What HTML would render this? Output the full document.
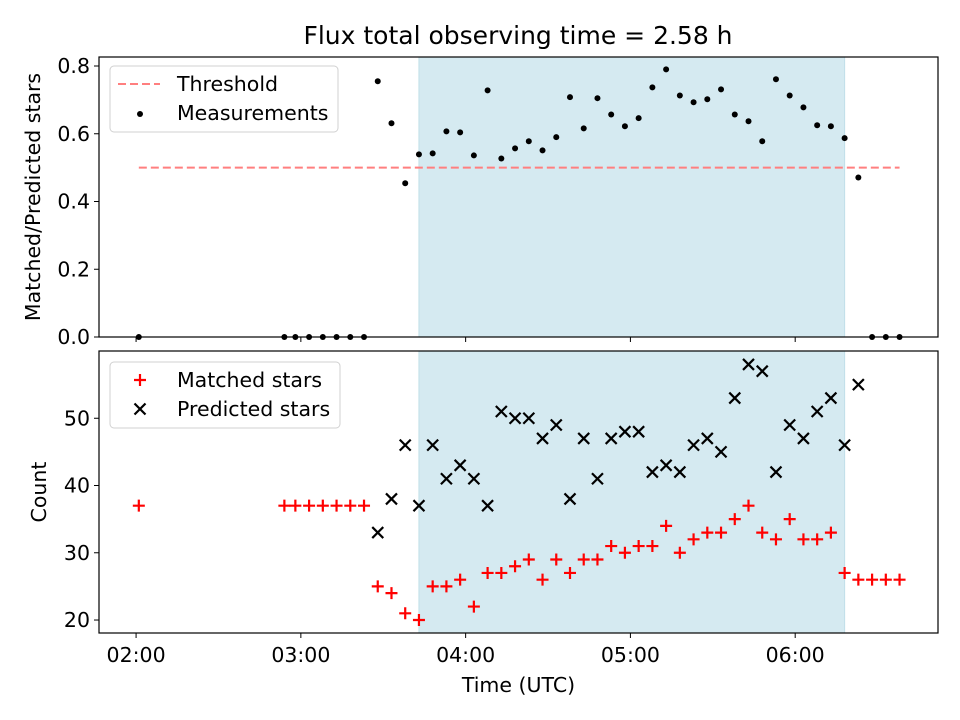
<!DOCTYPE html>
<html><head><meta charset="utf-8"><style>
html,body{margin:0;padding:0;background:#fff;}
svg{display:block;font-family:"DejaVu Sans","Liberation Sans",sans-serif;}
</style></head><body>
<svg id="fig" width="960" height="720" viewBox="0 0 960 720" xmlns="http://www.w3.org/2000/svg">
<rect width="960" height="720" fill="#fff"/>
<text x="518" y="44" font-size="25" text-anchor="middle">Flux total observing time = 2.58 h</text>
<g id="topPanel"></g>
<g id="botPanel"></g>
</svg>
<script>
// times in minutes after 02:00
const earlyTimes = [1, 54, 58, 63, 68, 73, 78, 83];
const mainTimes = [88,93,98,103,108,113,118,123,128,133,138,143,148,153,158,163,168,173,178,183,188,193,198,203,208,213,218,223,228,233,238,243,248,253,258,263];
const lateTimes = [268, 273, 278];
const ratioMain = [0.755,0.631,0.454,0.539,0.542,0.607,0.604,0.536,0.728,0.527,0.557,0.578,0.551,0.590,0.708,0.616,0.705,0.657,0.622,0.646,0.737,0.790,0.713,0.693,0.702,0.731,0.657,0.637,0.578,0.761,0.713,0.678,0.625,0.622,0.587,0.471];
const matchedEarly = [37,37,37,37,37,37,37,37];
const matchedMain = [25,24,21,20,25,25,26,22,27,27,28,29,26,29,27,29,29,31,30,31,31,34,30,32,33,33,35,37,33,32,35,32,32,33,27,26];
const matchedLate = [26,26,26];
const predictedMain = [33,38,46,37,46,41,43,41,37,51,50,50,47,49,38,47,41,47,48,48,42,43,42,46,47,45,53,58,57,42,49,47,51,53,46,55];
const threshold = 0.5;
const shadeStart = 103, shadeEnd = 258;
const xTicks = [0, 60, 120, 180, 240];
const xTickLabels = ["02:00","03:00","04:00","05:00","06:00"];
const topYTicks = [0, 0.2, 0.4, 0.6, 0.8];
const botYTicks = [20, 30, 40, 50];

const NS = "http://www.w3.org/2000/svg";
const L = 99, R = 938;
const T1 = 57, B1 = 337, T2 = 351, B2 = 633;
const xMin = -13.5, xMax = 292;
const y1Min = 0, y1Max = 0.8266;
const y2Min = 18.07, y2Max = 60.0;
const FS = 20.5;
const X = t => L + (t - xMin) / (xMax - xMin) * (R - L);
const Y1 = v => B1 - (v - y1Min) / (y1Max - y1Min) * (B1 - T1);
const Y2 = v => B2 - (v - y2Min) / (y2Max - y2Min) * (B2 - T2);

function mk(parent, tag, attrs, text) {
  const e = document.createElementNS(NS, tag);
  for (const k in attrs) e.setAttribute(k, attrs[k]);
  if (text !== undefined) e.textContent = text;
  parent.appendChild(e);
  return e;
}
const topG = document.getElementById('topPanel');
const botG = document.getElementById('botPanel');

function panel(g, T, B, yTicks, Y, fmt, showXLabels) {
  const sh = mk(g, 'rect', {x: X(shadeStart), y: T, width: X(shadeEnd) - X(shadeStart), height: B - T, fill: '#d5eaf1', stroke: '#c0dfe8', 'stroke-width': 1});
  
  
  yTicks.forEach(v => {
    const tk = mk(g, 'line', {x1: L - 5, x2: L, y1: Y(v), y2: Y(v), stroke: '#000', 'stroke-width': 1});
    
    
    const tl = mk(g, 'text', {x: L - 9, y: Y(v) + 7, 'font-size': FS, 'text-anchor': 'end'}, fmt(v));
    
    
  });
  xTicks.forEach((t, i) => {
    const tk = mk(g, 'line', {x1: X(t), x2: X(t), y1: B, y2: B + 5, stroke: '#000', 'stroke-width': 1});
    
    
    if (showXLabels) {
      const tl = mk(g, 'text', {x: X(t), y: B + 29, 'font-size': FS, 'text-anchor': 'middle'}, xTickLabels[i]);
      
      
    }
  });
}
panel(topG, T1, B1, topYTicks, Y1, v => v.toFixed(1), false);
panel(botG, T2, B2, botYTicks, Y2, v => String(v), true);

const allTimes = earlyTimes.concat(mainTimes, lateTimes);
const th = mk(topG, 'line', {x1: X(allTimes[0]), x2: X(allTimes[allTimes.length - 1]), y1: Y1(threshold), y2: Y1(threshold), stroke: '#ff7f7f', 'stroke-width': 2, 'stroke-dasharray': '8,4'});


const ratioAll = earlyTimes.map(() => 0).concat(ratioMain, lateTimes.map(() => 0));
allTimes.forEach((t, i) => {
  const c = mk(topG, 'circle', {cx: X(t), cy: Y1(ratioAll[i]), r: 3, fill: '#000'});
  
  
});

mainTimes.forEach((t, i) => {
  const cx = X(t), cy = Y2(predictedMain[i]), s = 5.5;
  const p = mk(botG, 'path', {d: `M${cx-s},${cy-s}L${cx+s},${cy+s}M${cx-s},${cy+s}L${cx+s},${cy-s}`, stroke: '#000', 'stroke-width': 2.2, fill: 'none'});
  
  
});
const matchedAll = matchedEarly.concat(matchedMain, matchedLate);
allTimes.forEach((t, i) => {
  const cx = X(t), cy = Y2(matchedAll[i]), s = 6;
  const p = mk(botG, 'path', {d: `M${cx-s},${cy}L${cx+s},${cy}M${cx},${cy-s}L${cx},${cy+s}`, stroke: '#f00', 'stroke-width': 2.2, fill: 'none'});
  
  
});

[[topG, T1, B1], [botG, T2, B2]].forEach(([g, T, B]) => {
  const f = mk(g, 'rect', {x: L, y: T, width: R - L, height: B - T, fill: 'none', stroke: '#000', 'stroke-width': 1.2});
  
  
});

const yt1 = mk(topG, 'text', {x: 0, y: 0, 'font-size': FS, 'text-anchor': 'middle', transform: `translate(40,${(T1+B1)/2}) rotate(-90)`}, 'Matched/Predicted stars');


const yt2 = mk(botG, 'text', {x: 0, y: 0, 'font-size': FS, 'text-anchor': 'middle', transform: `translate(46,${(T2+B2)/2}) rotate(-90)`}, 'Count');


const xt = mk(botG, 'text', {x: (L+R)/2, y: 692, 'font-size': FS, 'text-anchor': 'middle'}, 'Time (UTC)');



function legend(g, y0, w, items) {
  const lg = mk(g, 'g', {});
  
  
  mk(lg, 'rect', {x: 110, y: y0, width: w, height: 66, rx: 4, fill: '#fff', 'fill-opacity': 0.8, stroke: '#d0d0d0', 'stroke-width': 1});
  items.forEach((it, i) => {
    const cy = y0 + 18 + i * 29;
    const e = mk(lg, 'g', {});
    
    
    it.draw(e, 140, cy);
    mk(e, 'text', {x: 177, y: cy + 7, 'font-size': FS}, it.label);
  });
}
legend(topG, 66, 228, [
  {label: 'Threshold', draw: (e, cx, cy) => mk(e, 'line', {x1: cx - 22, x2: cx + 20, y1: cy, y2: cy, stroke: '#ff7f7f', 'stroke-width': 2, 'stroke-dasharray': '8,4'})},
  {label: 'Measurements', draw: (e, cx, cy) => mk(e, 'circle', {cx: cx, cy: cy + 1, r: 3, fill: '#000'})}
]);
legend(botG, 362, 230, [
  {label: 'Matched stars', draw: (e, cx, cy) => mk(e, 'path', {d: `M${cx-6},${cy}L${cx+6},${cy}M${cx},${cy-6}L${cx},${cy+6}`, stroke: '#f00', 'stroke-width': 2.2})},
  {label: 'Predicted stars', draw: (e, cx, cy) => mk(e, 'path', {d: `M${cx-5.5},${cy-5.5}L${cx+5.5},${cy+5.5}M${cx-5.5},${cy+5.5}L${cx+5.5},${cy-5.5}`, stroke: '#000', 'stroke-width': 2.2})}
]);
</script>
</body></html>
